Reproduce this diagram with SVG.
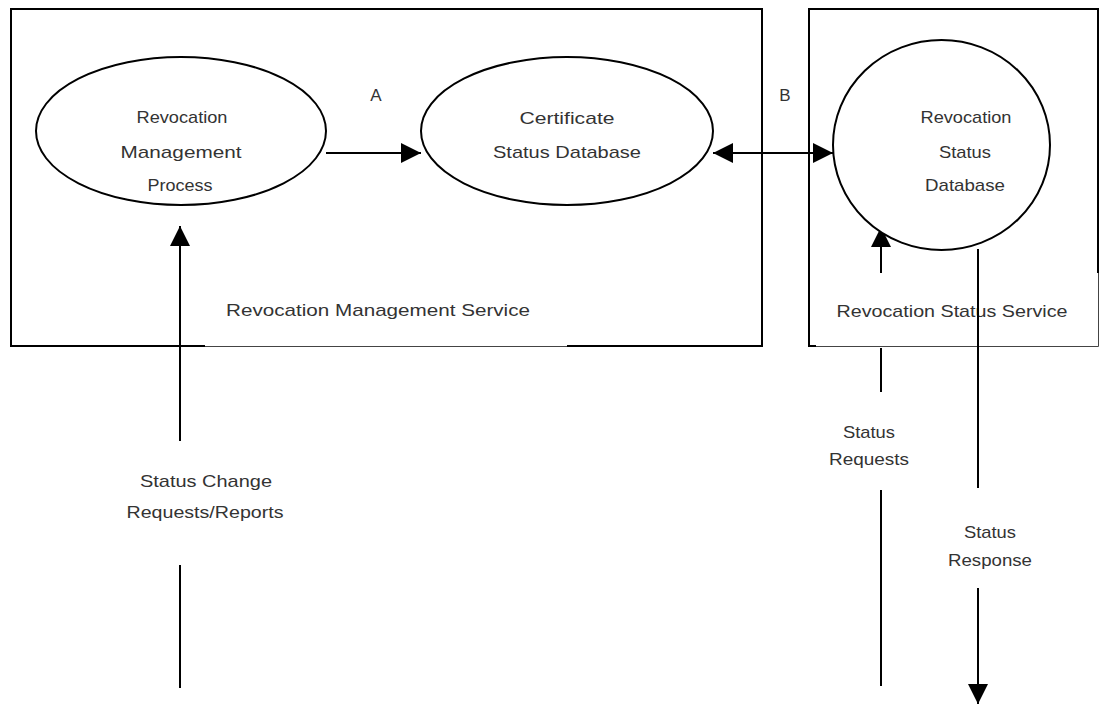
<svg xmlns="http://www.w3.org/2000/svg" width="1104" height="704" viewBox="0 0 1104 704">
<style>
.box{fill:none;stroke:#000;stroke-width:2}
.thin{fill:none;stroke:#444;stroke-width:1}
.ell{fill:#fff;stroke:#000;stroke-width:2}
.ln{fill:none;stroke:#000;stroke-width:2}
.t{font-family:"Liberation Sans",Arial,sans-serif;font-size:17px;fill:#333;text-anchor:middle}
</style>
<defs>
<marker id="ah" viewBox="0 0 20 20" refX="20" refY="10" markerWidth="20" markerHeight="20" markerUnits="userSpaceOnUse" orient="auto-start-reverse">
<path d="M0,0 L20,10 L0,20 Z" fill="#000"/>
</marker>
</defs>
<rect width="1104" height="704" fill="#fff"/>

<g id="rms-box">
<path class="box" d="M205,346 H11 V9 H762 V346 H567"/>
<path class="thin" d="M205,346.5 H567"/>
<text class="t" x="378" y="316" textLength="304" lengthAdjust="spacingAndGlyphs">Revocation Management Service</text>
</g>

<g id="rss-box">
<path class="box" d="M816,346 H809 V9 H1098 V273"/>
<path class="thin" d="M816,346.5 H1098.5 V273"/>
<text class="t" x="952" y="317" textLength="231" lengthAdjust="spacingAndGlyphs">Revocation Status Service</text>
</g>

<g id="connectors">
<line class="ln" x1="326" y1="153" x2="421" y2="153" marker-end="url(#ah)"/>
<line class="ln" x1="713" y1="153" x2="833" y2="153" marker-start="url(#ah)" marker-end="url(#ah)"/>
<line class="ln" x1="180" y1="441" x2="180" y2="226" marker-end="url(#ah)"/>
<line class="ln" x1="180" y1="565" x2="180" y2="688"/>
<line class="ln" x1="881" y1="273" x2="881" y2="227" marker-end="url(#ah)"/>
<line class="ln" x1="881" y1="348" x2="881" y2="392"/>
<line class="ln" x1="881" y1="490" x2="881" y2="686"/>
<line class="ln" x1="978" y1="249" x2="978" y2="488"/>
<line class="ln" x1="978" y1="588" x2="978" y2="704" marker-end="url(#ah)"/>
</g>

<g id="rmp">
<ellipse class="ell" cx="181" cy="131" rx="145" ry="74"/>
<text class="t" x="182" y="123" textLength="91" lengthAdjust="spacingAndGlyphs">Revocation</text>
<text class="t" x="181" y="158" textLength="121" lengthAdjust="spacingAndGlyphs">Management</text>
<text class="t" x="180" y="191" textLength="65" lengthAdjust="spacingAndGlyphs">Process</text>
</g>

<g id="csd">
<ellipse class="ell" cx="567" cy="131" rx="146" ry="74"/>
<text class="t" x="567" y="124" textLength="95" lengthAdjust="spacingAndGlyphs">Certificate</text>
<text class="t" x="567" y="158" textLength="148" lengthAdjust="spacingAndGlyphs">Status Database</text>
</g>

<g id="rsd">
<ellipse class="ell" cx="941.5" cy="145" rx="108.5" ry="105"/>
<text class="t" x="966" y="123" textLength="91" lengthAdjust="spacingAndGlyphs">Revocation</text>
<text class="t" x="965" y="158" textLength="52" lengthAdjust="spacingAndGlyphs">Status</text>
<text class="t" x="965" y="191" textLength="80" lengthAdjust="spacingAndGlyphs">Database</text>
</g>

<g id="labels">
<text class="t" x="376" y="101">A</text>
<text class="t" x="785" y="101">B</text>
<text class="t" x="206" y="487" textLength="132" lengthAdjust="spacingAndGlyphs">Status Change</text>
<text class="t" x="205" y="518" textLength="157" lengthAdjust="spacingAndGlyphs">Requests/Reports</text>
<text class="t" x="869" y="438" textLength="52" lengthAdjust="spacingAndGlyphs">Status</text>
<text class="t" x="869" y="465" textLength="80" lengthAdjust="spacingAndGlyphs">Requests</text>
<text class="t" x="990" y="538" textLength="52" lengthAdjust="spacingAndGlyphs">Status</text>
<text class="t" x="990" y="566" textLength="84" lengthAdjust="spacingAndGlyphs">Response</text>
</g>
</svg>
